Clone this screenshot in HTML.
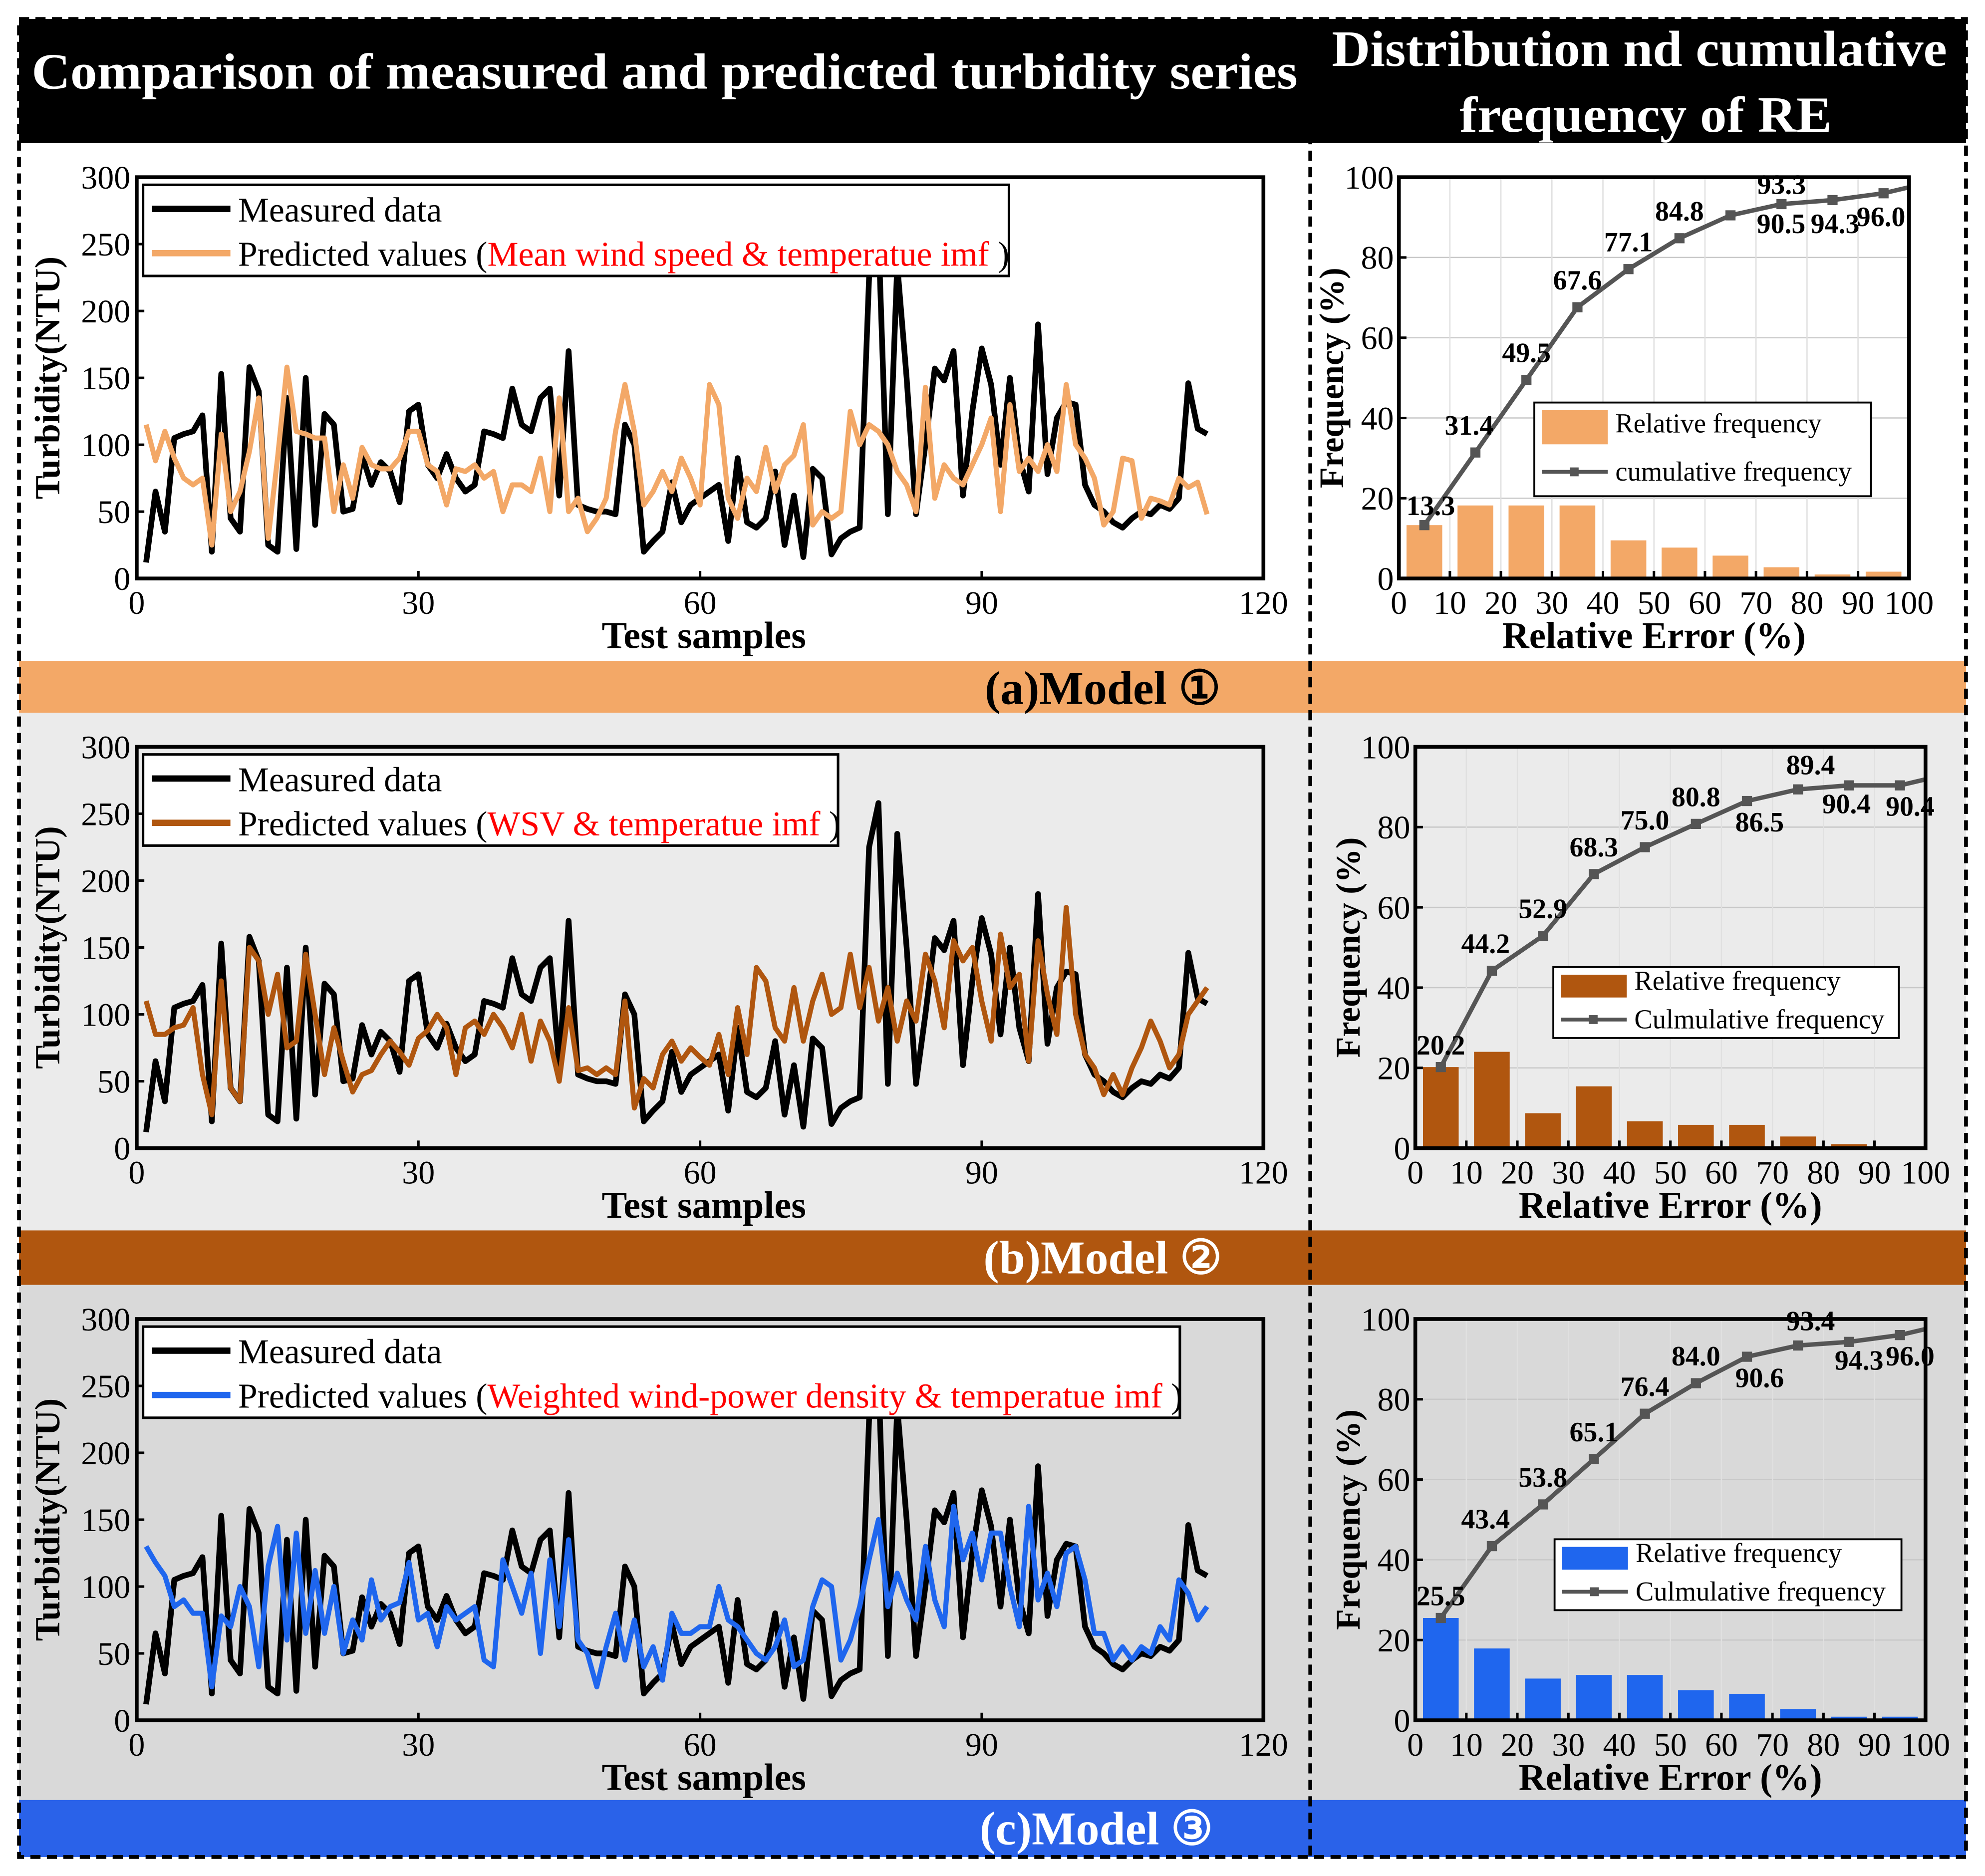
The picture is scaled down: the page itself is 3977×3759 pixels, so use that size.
<!DOCTYPE html>
<html><head><meta charset="utf-8"><style>
html,body{margin:0;padding:0;background:#fff}
svg{display:block}
text{font-family:"Liberation Serif","DejaVu Serif",serif}
</style></head><body>
<svg id="fig" width="3977" height="3759" viewBox="0 0 1568 1482" preserveAspectRatio="none" xmlns="http://www.w3.org/2000/svg">
<rect x="0" y="0" width="1568" height="1482" fill="#fff"/>
<rect x="15" y="113" width="1538" height="409" fill="#ffffff"/>
<rect x="15" y="563" width="1538" height="409" fill="#ebebeb"/>
<rect x="15" y="1015" width="1538" height="409" fill="#d9d9d9"/>
<rect x="15" y="15" width="1538" height="98" fill="#000"/>
<text x="25" y="70" textLength="1000" lengthAdjust="spacingAndGlyphs" fill="#fff" font-size="40" font-weight="bold">Comparison of measured and predicted turbidity series</text>
<text x="1052" y="52" textLength="486" lengthAdjust="spacingAndGlyphs" fill="#fff" font-size="40" font-weight="bold">Distribution nd cumulative</text>
<text x="1153" y="104" textLength="294" lengthAdjust="spacingAndGlyphs" fill="#fff" font-size="40" font-weight="bold">frequency of RE</text>
<rect x="15" y="522" width="1538" height="41" fill="#f3a867"/>
<text x="871" y="556" text-anchor="middle" fill="#000" font-size="37" font-weight="bold">(a)Model ①</text>
<rect x="15" y="972" width="1538" height="43" fill="#b0560f"/>
<text x="871" y="1006" text-anchor="middle" fill="#fff" font-size="37" font-weight="bold">(b)Model ②</text>
<rect x="15" y="1422" width="1538" height="45" fill="#2a62e9"/>
<text x="866" y="1457" text-anchor="middle" fill="#fff" font-size="37" font-weight="bold">(c)Model ③</text>
<g id="charts"></g>
<rect x="15" y="15" width="1538" height="1452" fill="none" stroke="#000" stroke-width="3" stroke-dasharray="8,5"/>
<line x1="1035" y1="15" x2="1035" y2="1467" stroke="#000" stroke-width="3" stroke-dasharray="8,5"/>
</svg>
<script>
const measured=[12,65,35,105,108,110,122,20,153,45,35,158,140,25,20,135,22,150,40,123,115,50,52,92,70,87,80,57,125,130,85,75,93,75,65,70,110,108,105,142,115,110,135,142,62,170,55,52,50,50,48,115,100,20,28,35,72,42,55,60,65,70,28,90,42,38,45,80,25,62,16,82,75,18,30,35,38,225,258,48,235,150,48,100,157,148,170,62,125,172,145,85,150,90,65,190,78,120,132,130,70,55,50,42,38,45,50,48,55,52,60,146,112,108];
const predA=[115,88,110,90,75,70,75,25,108,50,65,95,135,30,90,158,110,108,105,105,50,85,60,98,85,82,82,90,110,110,85,80,55,82,80,85,75,80,50,70,70,65,90,50,135,50,60,35,45,60,110,145,110,55,65,80,65,90,75,55,145,130,60,45,75,65,98,65,85,92,115,40,50,45,50,125,100,115,110,100,80,70,50,143,60,85,75,70,85,100,120,50,130,80,90,80,100,80,145,100,90,75,40,50,90,88,45,60,58,55,75,68,72,48];
const predB=[110,85,85,90,92,105,55,25,125,45,35,150,140,100,130,75,80,145,100,55,90,65,42,55,58,70,80,72,62,82,88,100,90,55,90,95,85,100,90,75,100,65,95,80,50,105,58,60,55,60,55,110,30,52,45,70,80,65,75,68,62,85,55,105,70,135,125,90,80,120,80,110,130,100,105,145,105,135,95,120,80,110,95,145,125,90,155,140,150,110,80,160,120,130,65,155,115,85,180,100,70,60,40,55,40,60,75,95,80,60,70,100,110,120];
const predC=[130,118,108,85,90,80,80,25,78,70,100,85,40,115,145,60,140,65,112,65,100,50,75,60,105,75,85,88,118,75,80,55,85,75,80,85,45,40,120,100,80,110,50,120,70,135,60,50,25,55,80,45,75,40,55,30,80,65,65,70,70,100,75,70,60,50,45,55,75,40,45,85,105,100,45,60,85,120,150,85,110,90,75,130,90,70,160,120,140,105,140,140,100,70,160,90,110,85,125,130,105,65,65,45,55,45,55,50,70,60,105,95,75,85];
const yTicks=[0,50,100,150,200,250,300];
const xTicks=[0,30,60,90,120];
const binCenters=[5,15,25,35,45,55,65,75,85,95];
const relA=[13.3,18.2,18.2,18.2,9.5,7.7,5.7,2.8,1.0,1.7];
const cumA=[13.3,31.4,49.5,67.6,77.1,84.8,90.5,93.3,94.3,96.0];
const relB=[20.2,24.0,8.7,15.4,6.7,5.8,5.8,2.9,1.0,0];
const cumB=[20.2,44.2,52.9,68.3,75.0,80.8,86.5,89.4,90.4,90.4];
const relC=[25.5,17.9,10.4,11.3,11.3,7.5,6.6,2.8,0.9,0.9];
const cumC=[25.5,43.4,53.8,65.1,76.4,84.0,90.6,93.4,94.3,96.0];
const hYTicks=[0,20,40,60,80,100];
const hXTicks=[0,10,20,30,40,50,60,70,80,90,100];

const NS="http://www.w3.org/2000/svg";
const root=document.getElementById('charts');
function mk(tag,attrs,parent){const e=document.createElementNS(NS,tag);for(const k in attrs)e.setAttribute(k,attrs[k]);(parent||root).appendChild(e);return e;}
function txt(s,attrs,parent){const e=mk('text',attrs,parent);e.textContent=s;return e;}

function lineChart(key,top,pred,color,label,legendW){
  const L=108,R=998,T=top,B=top+317;
  const g=mk('g',{});
  
  
  const xs=v=>L+(v-0)/120*(R-L), ys=v=>B-(v/300)*(B-T);
  const cid='clip'+key;
  const cp=mk('clipPath',{id:cid},g);mk('rect',{x:L,y:T,width:R-L,height:B-T},cp);
  const p1=mk('polyline',{points:measured.map((v,i)=>xs(i+1)+','+ys(v)).join(' '),fill:'none',stroke:'#000','stroke-width':4.5,'stroke-linejoin':'round','clip-path':'url(#'+cid+')'},g);
  
  
  const p2=mk('polyline',{points:pred.map((v,i)=>xs(i+1)+','+ys(v)).join(' '),fill:'none',stroke:color,'stroke-width':4,'stroke-linejoin':'round','clip-path':'url(#'+cid+')'},g);
  
  
  const fr=mk('rect',{x:L,y:T,width:R-L,height:B-T,fill:'none',stroke:'#000','stroke-width':3},g);
  
  
  yTicks.forEach(v=>{mk('line',{x1:L,x2:L+6,y1:ys(v),y2:ys(v),stroke:'#000','stroke-width':2},g);
    const t=txt(String(v),{x:L-5,y:ys(v)+9,'text-anchor':'end','font-size':26},g);
    
    });
  xTicks.forEach(v=>{mk('line',{x1:xs(v),x2:xs(v),y1:B,y2:B-6,stroke:'#000','stroke-width':2},g);
    const t=txt(String(v),{x:xs(v),y:B+28,'text-anchor':'middle','font-size':26},g);
    
    });
  const yt=txt('Turbidity(NTU)',{x:0,y:0,transform:'translate(47,'+(T+B)/2+') rotate(-90)','text-anchor':'middle','font-size':28,'font-weight':'bold'},g);
  
  
  const xt=txt('Test samples',{x:556,y:B+55,'text-anchor':'middle','font-size':30,'font-weight':'bold'},g);
  
  
  const lg=mk('g',{},g);
  
  
  mk('rect',{x:113,y:T+6,width:legendW,height:72,fill:'#fff',stroke:'#000','stroke-width':2},lg);
  mk('line',{x1:120,x2:182,y1:T+25,y2:T+25,stroke:'#000','stroke-width':5},lg);
  txt('Measured data',{x:188,y:T+35,'font-size':27.5},lg);
  mk('line',{x1:120,x2:182,y1:T+60,y2:T+60,stroke:color,'stroke-width':5},lg);
  const t2=txt('',{x:188,y:T+70,'font-size':27.5},lg);
  const a=document.createElementNS(NS,'tspan');a.textContent='Predicted values (';t2.appendChild(a);
  const b=document.createElementNS(NS,'tspan');b.setAttribute('fill','#f00');b.textContent=label;t2.appendChild(b);
  const c=document.createElementNS(NS,'tspan');c.textContent=' )';t2.appendChild(c);
}

function hist(key,L,top,rel,cum,color,legendTxt,lgBox,offs){
  const R=L+403,T=top,B=top+317;
  const g=mk('g',{});
  
  
  const xs=v=>L+v/100*(R-L), ys=v=>B-v/100*(B-T);
  hYTicks.forEach(v=>{if(v>0&&v<100)mk('line',{x1:L,x2:R,y1:ys(v),y2:ys(v),stroke:'#c8c8c8','stroke-width':1},g);});
  hXTicks.forEach(v=>{if(v>0&&v<100)mk('line',{x1:xs(v),x2:xs(v),y1:T,y2:B,stroke:'#e0e0e0','stroke-width':1},g);});
  binCenters.forEach((c,i)=>{const r=mk('rect',{x:xs(c-3.5),y:ys(rel[i]),width:xs(7)-xs(0),height:B-ys(rel[i]),fill:color},g);
    
    });
  const pl=mk('polyline',{points:cum.map((v,i)=>xs(binCenters[i])+','+ys(v)).join(' ')+' '+xs(100)+','+ys(cum[cum.length-1]+1.5),fill:'none',stroke:'#555','stroke-width':3.5},g);
  
  
  cum.forEach((v,i)=>{const cx=xs(binCenters[i]),cy=ys(v);
    const m=mk('rect',{x:cx-4,y:cy-4,width:8,height:8,fill:'#555'},g);
    
    
    const o=offs[i];
    const t=txt(v.toFixed(1),{x:cx+o[0],y:cy+o[1],'text-anchor':'middle','font-size':22,'font-weight':'bold'},g);
    
    });
  mk('rect',{x:L,y:T,width:R-L,height:B-T,fill:'none',stroke:'#000','stroke-width':3},g);
  hYTicks.forEach(v=>{mk('line',{x1:L,x2:L+6,y1:ys(v),y2:ys(v),stroke:'#000','stroke-width':2},g);
    const t=txt(String(v),{x:L-4,y:ys(v)+9,'text-anchor':'end','font-size':26},g);
    
    });
  hXTicks.forEach(v=>{mk('line',{x1:xs(v),x2:xs(v),y1:B,y2:B-6,stroke:'#000','stroke-width':2},g);
    const t=txt(String(v),{x:xs(v),y:B+28,'text-anchor':'middle','font-size':26},g);
    
    });
  const yt=txt('Frequency (%)',{x:0,y:0,transform:'translate('+(L-44)+','+(T+B)/2+') rotate(-90)','text-anchor':'middle','font-size':27,'font-weight':'bold'},g);
  
  
  const xt=txt('Relative Error (%)',{x:(L+R)/2,y:B+55,'text-anchor':'middle','font-size':29.5,'font-weight':'bold'},g);
  
  
  const lg=mk('g',{},g);
  
  
  const [bx,by,bw,bh]=lgBox;
  mk('rect',{x:bx,y:by,width:bw,height:bh,fill:'#fff',stroke:'#000','stroke-width':1.5},lg);
  mk('rect',{x:bx+6,y:by+6,width:52,height:bh/2-10,fill:color},lg);
  txt('Relative frequency',{x:bx+64,y:by+bh*0.32,'font-size':21.5},lg);
  mk('line',{x1:bx+6,x2:bx+58,y1:by+bh*0.74,y2:by+bh*0.74,stroke:'#555','stroke-width':3},lg);
  mk('rect',{x:bx+28,y:by+bh*0.74-3.5,width:7,height:7,fill:'#555'},lg);
  txt(legendTxt,{x:bx+64,y:by+bh*0.74+7,'font-size':21.5},lg);
}

lineChart('a',140,predA,'#f3a867','Mean wind speed & temperatue imf',684);
lineChart('b',590,predB,'#b0560f','WSV & temperatue imf',549);
lineChart('c',1042,predC,'#1f66ee','Weighted wind-power density & temperatue imf',819);
const offA=[[5,-8],[-5,-14],[0,-14],[0,-14],[0,-14],[0,-14],[40,14],[0,-8],[2,26],[-2,26]];
const offB=[[0,-10],[-5,-14],[0,-14],[0,-14],[0,-14],[0,-14],[10,24],[10,-12],[-2,22],[8,24]];
const offC=[[0,-10],[-5,-14],[0,-14],[0,-14],[0,-14],[0,-14],[10,24],[10,-12],[8,22],[8,24]];
hist('a',1105,140,relA,cumA,'#f3a867','cumulative frequency',[1212,318,266,74],offA);
hist('b',1118,590,relB,cumB,'#b0560f','Culmulative frequency',[1227,764,273,56],offB);
hist('c',1118,1042,relC,cumC,'#1f66ee','Culmulative frequency',[1228,1216,274,56],offC);
</script>
</body></html>
